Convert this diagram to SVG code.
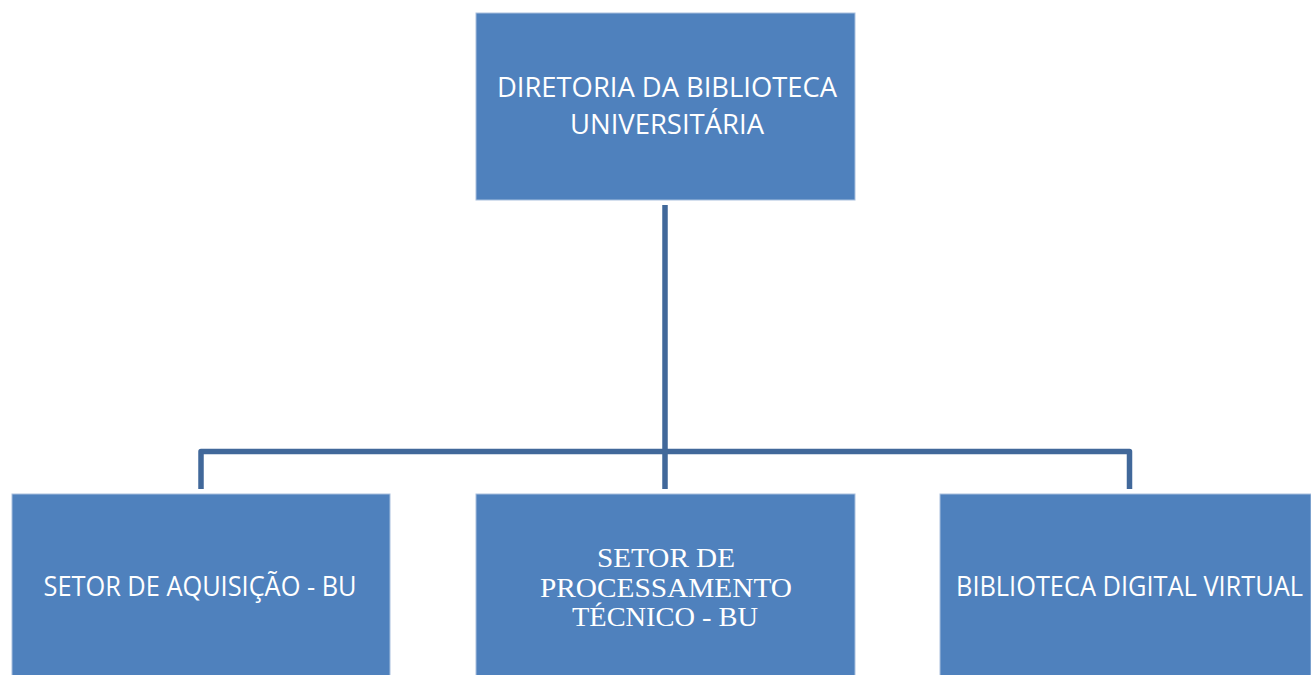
<svg xmlns="http://www.w3.org/2000/svg" width="1311" height="675" viewBox="0 0 1311 675">
<style>
.box{fill:#4F81BD;stroke:#A9C0DE;stroke-width:1}
.sans{font-family:"Open Sans","Noto Sans","Liberation Sans",sans-serif;font-size:28px;fill:#FFFFFF;text-anchor:middle}
.serif{font-family:"Liberation Serif","DejaVu Serif",serif;font-size:28px;fill:#FFFFFF;text-anchor:middle}
.conn{fill:none;stroke:#41689A;stroke-width:5.5;stroke-linejoin:round}
</style>
<rect width="1311" height="675" fill="#FFFFFF"/>
<g id="connectors">
<line class="conn" x1="665" y1="205" x2="665" y2="489"/>
<path class="conn" d="M201,489 V451.5 H1129.5 V489"/>
</g>
<g id="node-diretoria">
<rect class="box" x="476" y="13" width="379" height="187"/>
<text class="sans" x="667" y="97" textLength="340" lengthAdjust="spacingAndGlyphs">DIRETORIA DA BIBLIOTECA</text>
<text class="sans" x="667" y="134" textLength="194" lengthAdjust="spacingAndGlyphs">UNIVERSITÁRIA</text>
</g>
<g id="node-aquisicao">
<rect class="box" x="12" y="494" width="378" height="190"/>
<text class="sans" x="200" y="596" textLength="313" lengthAdjust="spacingAndGlyphs">SETOR DE AQUISIÇÃO - BU</text>
</g>
<g id="node-processamento">
<rect class="box" x="476" y="494" width="379" height="190"/>
<text class="serif" x="666" y="567" textLength="138" lengthAdjust="spacingAndGlyphs">SETOR DE</text>
<text class="serif" x="666" y="596.5" textLength="252" lengthAdjust="spacingAndGlyphs">PROCESSAMENTO</text>
<text class="serif" x="665" y="626" textLength="186" lengthAdjust="spacingAndGlyphs">TÉCNICO - BU</text>
</g>
<g id="node-biblioteca-digital">
<rect class="box" x="940" y="494" width="371" height="190"/>
<text class="sans" x="1129.5" y="596" textLength="347" lengthAdjust="spacingAndGlyphs">BIBLIOTECA DIGITAL VIRTUAL</text>
</g>
</svg>
